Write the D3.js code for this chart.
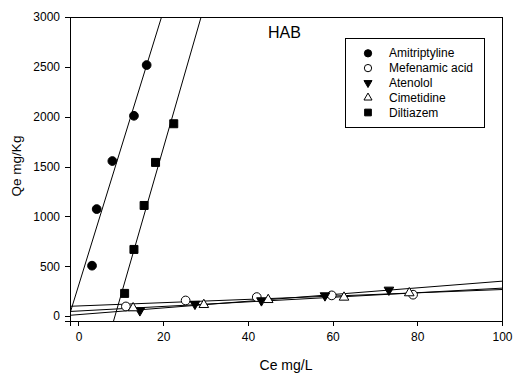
<!DOCTYPE html>
<html lang="en">
<head>
<meta charset="utf-8">
<title>HAB sorption</title>
<script src="https://cdn.jsdelivr.net/npm/d3@7"></script>
<style>
  body { margin: 0; background: #fff; }
  text { font-family: "Liberation Sans", Arial, sans-serif; fill: #000; }
  .axis path, .axis line { stroke: #000; shape-rendering: crispEdges; }
  .axis text { font-size: 12px; }
</style>
</head>
<body>
<script>
// data: [Ce, Qe]
var amitriptyline = [[3.2, 505], [4.3, 1073], [8.0, 1555], [13.1, 2009], [16.1, 2518]];
var mefenamic = [[11.2, 96], [25.3, 156], [42.1, 190], [59.8, 207], [79.0, 214]];
var atenolol = [[14.5, 55], [27.5, 120], [43.2, 155], [58.2, 205], [73.3, 262]];
var cimetidine = [[12.9, 80], [29.6, 113], [44.8, 163], [62.7, 187], [78.1, 231]];
var diltiazem = [[10.9, 227], [13.1, 668], [15.5, 1109], [18.2, 1541], [22.5, 1929]];

var seriesNames = ["Amitriptyline", "Mefenamic acid", "Atenolol", "Cimetidine", "Diltiazem"];
var xTicks = [0, 20, 40, 60, 80, 100];
var yTicks = [0, 500, 1000, 1500, 2000, 2500, 3000];

var w = 514, h = 376;
var margin = {left: 70, top: 17, right: 12, bottom: 55};

var svg = d3.select("body").append("svg")
  .attr("width", w)
  .attr("height", h);

var xScale = d3.scaleLinear().domain([-2, 100]).range([margin.left, w - margin.right]);
var yScale = d3.scaleLinear().domain([-50, 3000]).range([h - margin.bottom, margin.top]);

var series = [
  {name: seriesNames[0], data: amitriptyline, sym: d3.symbolCircle, fill: "#000", size: 60},
  {name: seriesNames[1], data: mefenamic, sym: d3.symbolCircle, fill: "#fff", size: 60},
  {name: seriesNames[2], data: atenolol, sym: d3.symbolTriangle, fill: "#000", size: 40, flip: true},
  {name: seriesNames[3], data: cimetidine, sym: d3.symbolTriangle, fill: "#fff", size: 40},
  {name: seriesNames[4], data: diltiazem, sym: d3.symbolSquare, fill: "#000", size: 64}
];

// least squares line for each set
function fit(data) {
  var mx = d3.mean(data, function(d) { return d[0]; });
  var my = d3.mean(data, function(d) { return d[1]; });
  var sxy = d3.sum(data, function(d) { return (d[0] - mx) * (d[1] - my); });
  var sxx = d3.sum(data, function(d) { return (d[0] - mx) * (d[0] - mx); });
  var b = sxy / sxx;
  return {b: b, a: my - b * mx};
}

svg.append("clipPath").attr("id", "plot")
  .append("rect")
  .attr("x", margin.left).attr("y", margin.top)
  .attr("width", w - margin.right - margin.left)
  .attr("height", h - margin.bottom - margin.top);

var lineGen = d3.line()
  .x(function(d) { return xScale(d[0]); })
  .y(function(d) { return yScale(d[1]); });

// regression lines
series.forEach(function(s) {
  var f = fit(s.data);
  var xd = xScale.domain();
  svg.append("path")
    .attr("clip-path", "url(#plot)")
    .attr("d", lineGen([[xd[0], f.a + f.b * xd[0]], [xd[1], f.a + f.b * xd[1]]]))
    .attr("fill", "none")
    .attr("stroke", "#000")
    .attr("stroke-width", 1);
});

// points
series.forEach(function(s) {
  svg.append("g").selectAll("path")
    .data(s.data)
    .enter()
    .append("path")
    .attr("d", d3.symbol().type(s.sym).size(s.size))
    .attr("transform", function(d) {
      return "translate(" + xScale(d[0]) + "," + yScale(d[1]) + ")" + (s.flip ? " rotate(180)" : "");
    })
    .attr("fill", s.fill)
    .attr("stroke", "#000")
    .attr("stroke-width", 1);
});

// frame
svg.append("rect")
  .attr("x", margin.left).attr("y", margin.top)
  .attr("width", w - margin.right - margin.left)
  .attr("height", h - margin.bottom - margin.top)
  .attr("fill", "none")
  .attr("stroke", "#000")
  .attr("shape-rendering", "crispEdges");

var xAxis = d3.axisBottom(xScale).tickValues(xTicks).tickSize(5).tickPadding(6).tickFormat(d3.format("d"));
var yAxis = d3.axisLeft(yScale).tickValues(yTicks).tickSize(5).tickPadding(5).tickFormat(d3.format("d"));

svg.append("g")
  .attr("class", "axis")
  .attr("transform", "translate(0," + (h - margin.bottom) + ")")
  .call(xAxis);

svg.append("g")
  .attr("class", "axis")
  .attr("transform", "translate(" + margin.left + ",0)")
  .call(yAxis);

// axis titles
svg.append("text")
  .attr("x", 286).attr("y", 370)
  .attr("text-anchor", "middle")
  .style("font-size", "14px")
  .text("Ce mg/L");

svg.append("text")
  .attr("transform", "translate(21,166) rotate(-90)")
  .attr("text-anchor", "middle")
  .style("font-size", "13.5px")
  .text("Qe mg/Kg");

svg.append("text")
  .attr("x", 268).attr("y", 38)
  .style("font-size", "16px")
  .text("HAB");

// legend
var legend = svg.append("g");
legend.append("rect")
  .attr("x", 345).attr("y", 38)
  .attr("width", 139).attr("height", 89)
  .attr("fill", "#fff")
  .attr("stroke", "#000")
  .attr("shape-rendering", "crispEdges");

series.forEach(function(s, i) {
  var cy = 53.3 + i * 14.8;
  legend.append("path")
    .attr("d", d3.symbol().type(s.sym).size(s.size * 0.7))
    .attr("transform", "translate(368," + cy + ")" + (s.flip ? " rotate(180)" : ""))
    .attr("fill", s.fill)
    .attr("stroke", "#000");
  legend.append("text")
    .attr("x", 389).attr("y", cy + 4)
    .style("font-size", "12px")
    .text(s.name);
});
</script>
</body>
</html>
